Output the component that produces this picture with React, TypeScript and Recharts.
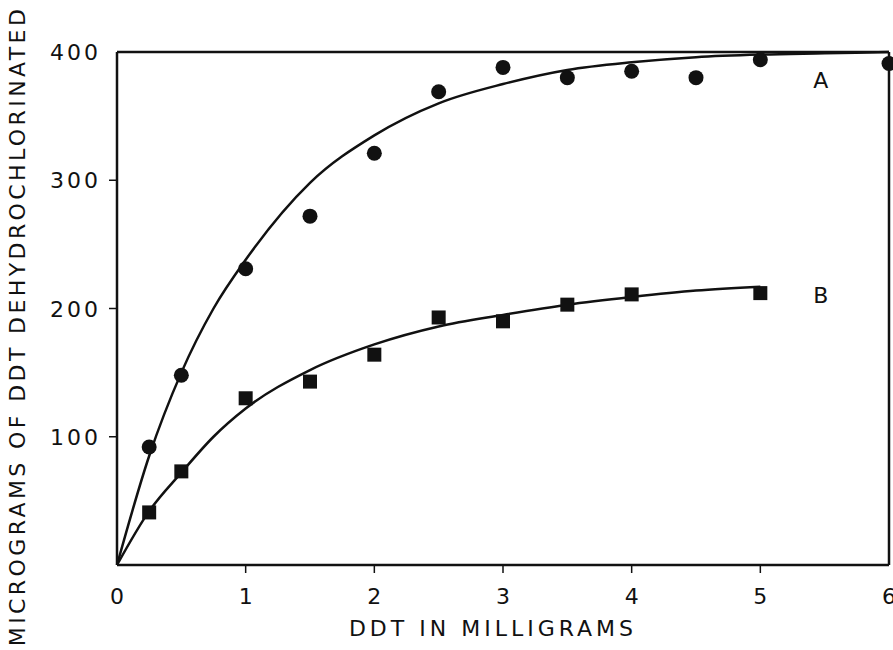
import {
  ComposedChart,
  Line,
  Scatter,
  XAxis,
  YAxis,
  ReferenceDot,
  ReferenceLine,
} from 'recharts';

// measured points
const xA = [0.25, 0.5, 1, 1.5, 2, 2.5, 3, 3.5, 4, 4.5, 5, 6];
const yA = [92, 148, 231, 272, 321, 369, 388, 380, 385, 380, 394, 391];
const xB = [0.25, 0.5, 1, 1.5, 2, 2.5, 3, 3.5, 4, 5];
const yB = [41, 73, 130, 143, 164, 193, 190, 203, 211, 212];

// fitted curves as drawn
const curveAx = [0, 0.25, 0.5, 0.75, 1, 1.5, 2, 2.5, 3, 3.5, 4, 4.5, 5, 5.5, 6];
const curveAy = [0, 85, 150, 200, 238, 298, 335, 360, 375, 386, 392, 396, 398, 399, 400];
const curveBx = [0, 0.25, 0.5, 0.75, 1, 1.5, 2, 2.5, 3, 3.5, 4, 4.5, 5];
const curveBy = [0, 42, 72, 100, 122, 152, 172, 186, 195, 203, 209, 214, 217];

const xTicks = [0, 1, 2, 3, 4, 5, 6];
const yTicks = [100, 200, 300, 400];

const zip = (xs: number[], ys: number[]) => xs.map((x, i) => ({ x, y: ys[i] }));

const font = '"DejaVu Sans", sans-serif';
const ink = '#111';

function XTick({ x, y, payload }: any) {
  return (
    <g>
      {payload.value > 0 && payload.value < 6 && (
        <line x1={x} y1={y} x2={x} y2={y - 7} stroke={ink} strokeWidth={1.5} />
      )}
      <text x={x} y={y + 31} textAnchor="middle" fontFamily={font} fontSize={22} fill={ink}>
        {payload.value}
      </text>
    </g>
  );
}

function YTick({ x, y, payload }: any) {
  return (
    <g>
      {payload.value < 400 && (
        <line x1={x} y1={y} x2={x + 7} y2={y} stroke={ink} strokeWidth={1.5} />
      )}
      <text
        x={x - 8}
        y={y + 8}
        textAnchor="end"
        fontFamily={font}
        fontSize={22}
        letterSpacing={3}
        fill={ink}
      >
        {payload.value}
      </text>
    </g>
  );
}

function YTitle() {
  return (
    <text
      transform="translate(25, 326) rotate(-90)"
      textAnchor="middle"
      fontFamily={font}
      fontSize={22}
      letterSpacing={3.4}
      fill={ink}
    >
      MICROGRAMS OF DDT DEHYDROCHLORINATED
    </text>
  );
}

const Dot = (p: any) => <circle cx={p.cx} cy={p.cy} r={7.5} fill={ink} />;
const Square = (p: any) => <rect x={p.cx - 7} y={p.cy - 7} width={14} height={14} fill={ink} />;

export default function App() {
  return (
    <div style={{ position: 'absolute', left: 0, top: 0, width: 893, height: 650, background: '#fff' }}>
      <ComposedChart width={893} height={650} margin={{ top: 52, right: 4, bottom: 0, left: 0 }}>
        <XAxis
          type="number"
          dataKey="x"
          domain={[0, 6]}
          ticks={xTicks}
          tick={<XTick />}
          tickLine={false}
          axisLine={{ stroke: ink, strokeWidth: 2.5 }}
          height={85}
          label={{
            value: 'DDT IN MILLIGRAMS',
            position: 'insideBottom',
            offset: 14,
            dx: -10,
            fontFamily: font,
            fontSize: 22,
            letterSpacing: 4,
            fill: ink,
          }}
        />
        <YAxis
          type="number"
          domain={[0, 400]}
          ticks={yTicks}
          tick={<YTick />}
          tickLine={false}
          axisLine={{ stroke: ink, strokeWidth: 2.5 }}
          width={117}
          label={<YTitle />}
        />
        <ReferenceLine y={400} stroke={ink} strokeWidth={2.5} />
        <ReferenceLine x={6} stroke={ink} strokeWidth={2.5} />
        <Line
          data={zip(curveAx, curveAy)}
          dataKey="y"
          type="monotone"
          stroke={ink}
          strokeWidth={2.5}
          dot={false}
          isAnimationActive={false}
        />
        <Line
          data={zip(curveBx, curveBy)}
          dataKey="y"
          type="monotone"
          stroke={ink}
          strokeWidth={2.5}
          dot={false}
          isAnimationActive={false}
        />
        <Scatter data={zip(xA, yA)} dataKey="y" shape={<Dot />} isAnimationActive={false} />
        <Scatter data={zip(xB, yB)} dataKey="y" shape={<Square />} isAnimationActive={false} />
        <ReferenceDot
          x={5.47}
          y={378}
          r={0}
          label={{ value: 'A', fontFamily: font, fontSize: 22, fill: ink }}
        />
        <ReferenceDot
          x={5.47}
          y={210}
          r={0}
          label={{ value: 'B', fontFamily: font, fontSize: 22, fill: ink }}
        />
      </ComposedChart>
    </div>
  );
}
